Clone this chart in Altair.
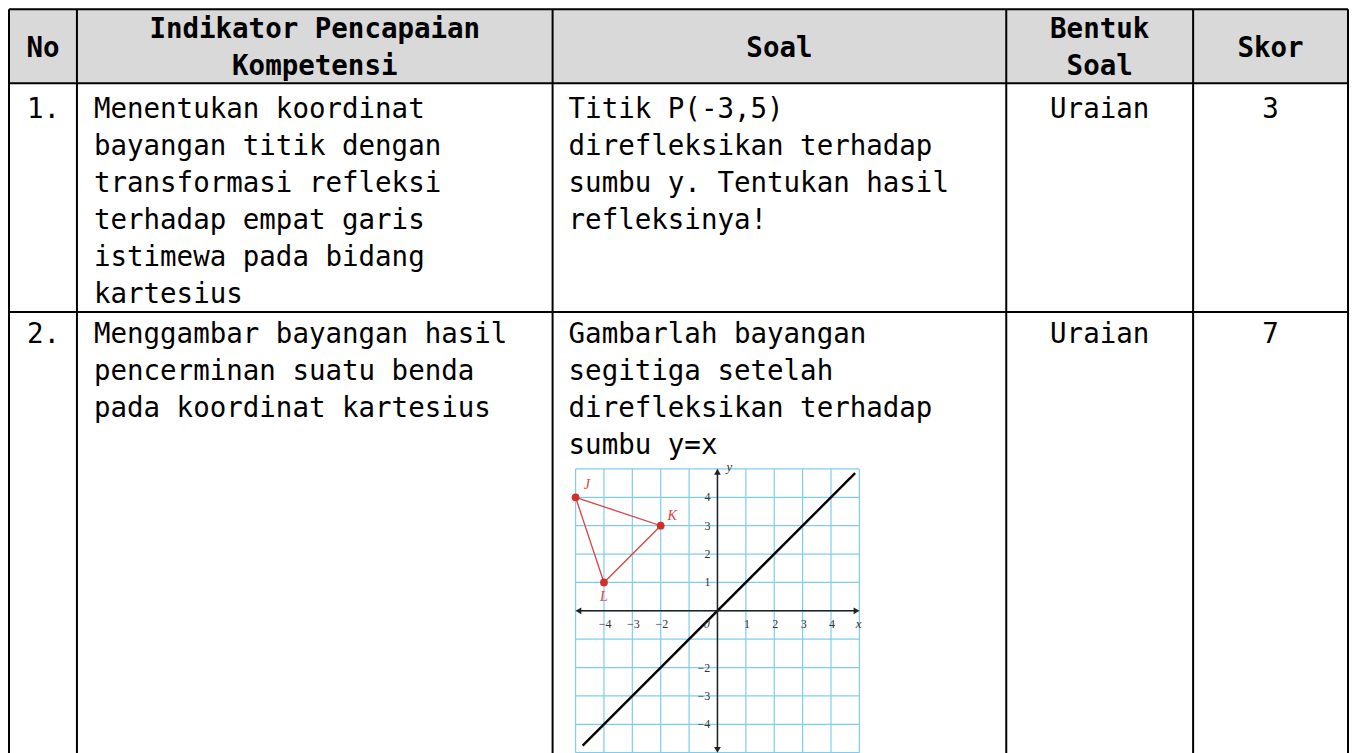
import altair as alt
import pandas as pd

# ---------------- table content ----------------
headers = ["No", "Indikator Pencapaian\nKompetensi", "Soal", "Bentuk\nSoal", "Skor"]
numbers = ["1.", "2."]
indikator = [
    "Menentukan koordinat\nbayangan titik dengan\ntransformasi refleksi\nterhadap empat garis\nistimewa pada bidang\nkartesius",
    "Menggambar bayangan hasil\npencerminan suatu benda\npada koordinat kartesius",
]
soal = [
    "Titik P(-3,5)\ndirefleksikan terhadap\nsumbu y. Tentukan hasil\nrefleksinya!",
    "Gambarlah bayangan\nsegitiga setelah\ndirefleksikan terhadap\nsumbu y=x",
]
bentuk = ["Uraian", "Uraian"]
skor = ["3", "7"]

# ---------------- embedded graph data ----------------
tri_names = ["J", "K", "L"]
tri_x = [-5, -2, -4]
tri_y = [4, 3, 1]
tri_label_x = [-4.6, -1.6, -4.0]
tri_label_y = [4.45, 3.33, 0.5]
grid_vals = [-5, -4, -3, -2, -1, 0, 1, 2, 3, 4, 5]
x_tick_vals = [-4, -3, -2, 1, 2, 3, 4]
x_tick_text = ["\u22124", "\u22123", "\u22122", "1", "2", "3", "4"]
y_tick_vals = [4, 3, 2, 1, -2, -3, -4]
y_tick_text = ["4", "3", "2", "1", "\u22122", "\u22123", "\u22124"]
mirror_x = [-4.75, 4.85]
mirror_y = [-4.75, 4.85]

# ---------------- layout ----------------
W, H = 1342, 745
COL = [9, 77, 553, 1007, 1194, 1349]
ROW = [9, 83, 312]
BOTTOM = 760
MONO = "DejaVu Sans Mono"
FS = 27.5
LH = 37
RED = "#d8443f"
GRID = "#7fcdee"
SERIF = "Liberation Serif"

tx = alt.Scale(domain=[8, 8 + W], range=[0, W])
ty = alt.Scale(domain=[8, 8 + H], range=[0, H])
gx = alt.Scale(domain=[-5, 5], range=[568, 852])
gy = alt.Scale(domain=[-5, 5], range=[745, 461])


def TX(f):
    return alt.X(f, type="quantitative", scale=tx, axis=None)


def TY(f):
    return alt.Y(f, type="quantitative", scale=ty, axis=None)


def GX(f):
    return alt.X(f, type="quantitative", scale=gx, axis=None)


def GY(f):
    return alt.Y(f, type="quantitative", scale=gy, axis=None)


# header background
hdr_bg = alt.Chart(pd.DataFrame({"x": [COL[0]], "x2": [COL[-1]], "y": [ROW[0]], "y2": [ROW[1]]})).mark_rect(
    color="#d9d9d9"
).encode(x=TX("x"), x2="x2", y=TY("y"), y2="y2")

# borders
hrules = alt.Chart(pd.DataFrame({"x": [COL[0]] * 3, "x2": [COL[-1]] * 3, "y": ROW})).mark_rule(
    color="black", strokeWidth=2
).encode(x=TX("x"), x2="x2", y=TY("y"))
vrules = alt.Chart(pd.DataFrame({"x": COL, "y": [ROW[0]] * len(COL), "y2": [BOTTOM] * len(COL)})).mark_rule(
    color="black", strokeWidth=2
).encode(x=TX("x"), y=TY("y"), y2="y2")

# header texts
centers = [(COL[i] + COL[i + 1]) / 2 for i in range(5)]
hdr_y = [57 if "\n" not in h else 38 for h in headers]
hdr_df = pd.DataFrame({"x": centers, "y": hdr_y, "t": headers})
hdr_text = alt.Chart(hdr_df).mark_text(
    font=MONO, fontSize=FS, fontWeight="bold", align="center", baseline="alphabetic",
    lineBreak="\n", lineHeight=LH, color="black"
).encode(x=TX("x"), y=TY("y"), text="t:N")

row_base = [118, 343]
left_rows = []
for i in range(2):
    left_rows.append({"x": 27, "y": row_base[i], "t": numbers[i]})
    left_rows.append({"x": 94, "y": row_base[i], "t": indikator[i]})
    left_rows.append({"x": 569, "y": row_base[i], "t": soal[i]})
left_text = alt.Chart(pd.DataFrame(left_rows)).mark_text(
    font=MONO, fontSize=FS, align="left", baseline="alphabetic",
    lineBreak="\n", lineHeight=LH, color="black"
).encode(x=TX("x"), y=TY("y"), text="t:N")

center_rows = []
for i in range(2):
    center_rows.append({"x": centers[3], "y": row_base[i], "t": bentuk[i]})
    center_rows.append({"x": centers[4], "y": row_base[i], "t": skor[i]})
center_text = alt.Chart(pd.DataFrame(center_rows)).mark_text(
    font=MONO, fontSize=FS, align="center", baseline="alphabetic", color="black"
).encode(x=TX("x"), y=TY("y"), text="t:N")

# ---------------- embedded coordinate graph ----------------
gbg = alt.Chart(pd.DataFrame({"x": [-5], "x2": [5], "y": [-5], "y2": [5]})).mark_rect(color="white").encode(
    x=GX("x"), x2="x2", y=GY("y"), y2="y2"
)
vgrid = alt.Chart(pd.DataFrame({"x": grid_vals, "y": [-5] * 11, "y2": [5] * 11})).mark_rule(
    color=GRID, strokeWidth=1.2
).encode(x=GX("x"), y=GY("y"), y2="y2")
hgrid = alt.Chart(pd.DataFrame({"y": grid_vals, "x": [-5] * 11, "x2": [5] * 11})).mark_rule(
    color=GRID, strokeWidth=1.2
).encode(y=GY("y"), x=GX("x"), x2="x2")

xaxis = alt.Chart(pd.DataFrame({"x": [-4.85], "x2": [4.85], "y": [0]})).mark_rule(
    color="#222", strokeWidth=1.5
).encode(x=GX("x"), x2="x2", y=GY("y"))
yaxis = alt.Chart(pd.DataFrame({"y": [-4.85], "y2": [4.85], "x": [0]})).mark_rule(
    color="#222", strokeWidth=1.5
).encode(y=GY("y"), y2="y2", x=GX("x"))

arrows = []
for shp, ax, ay in [("triangle-left", -4.9, 0), ("triangle-right", 4.9, 0),
                    ("triangle-up", 0, 4.9), ("triangle-down", 0, -4.9)]:
    arrows.append(
        alt.Chart(pd.DataFrame({"x": [ax], "y": [ay]})).mark_point(
            shape=shp, filled=True, color="#222", size=45, opacity=1
        ).encode(x=GX("x"), y=GY("y"))
    )

mirror = alt.Chart(pd.DataFrame({"x": mirror_x, "y": mirror_y})).mark_line(
    color="black", strokeWidth=2.4
).encode(x=GX("x"), y=GY("y"))

tri_df = pd.DataFrame({
    "x": tri_x + [tri_x[0]],
    "y": tri_y + [tri_y[0]],
    "o": [0, 1, 2, 3],
})
tri_line = alt.Chart(tri_df).mark_line(color=RED, strokeWidth=1.3).encode(
    x=GX("x"), y=GY("y"), order="o:Q"
)
tri_pts = alt.Chart(pd.DataFrame({"x": tri_x, "y": tri_y})).mark_circle(
    color="#d02f2a", size=60, opacity=1
).encode(x=GX("x"), y=GY("y"))
tri_lbl = alt.Chart(pd.DataFrame({"x": tri_label_x, "y": tri_label_y, "t": tri_names})).mark_text(
    font=SERIF, fontSize=14, fontStyle="italic", color=RED, align="center", baseline="middle"
).encode(x=GX("x"), y=GY("y"), text="t:N")

xt = alt.Chart(pd.DataFrame({"x": [v + 0.04 for v in x_tick_vals], "y": [-0.45] * 7, "t": x_tick_text})).mark_text(
    font=SERIF, fontSize=12, color="#333", align="center", baseline="middle"
).encode(x=GX("x"), y=GY("y"), text="t:N")
yt = alt.Chart(pd.DataFrame({"x": [-0.25] * 7, "y": y_tick_vals, "t": y_tick_text})).mark_text(
    font=SERIF, fontSize=12, color="#333", align="right", baseline="middle"
).encode(x=GX("x"), y=GY("y"), text="t:N")
origin = alt.Chart(pd.DataFrame({"x": [-0.38], "y": [-0.45], "t": ["0"]})).mark_text(
    font=SERIF, fontSize=12, fontStyle="italic", color="#333", align="center", baseline="middle"
).encode(x=GX("x"), y=GY("y"), text="t:N")
axlbl = alt.Chart(pd.DataFrame({"x": [4.97, 0.42], "y": [-0.45, 5.08], "t": ["x", "y"]})).mark_text(
    font=SERIF, fontSize=13, fontStyle="italic", color="#333", align="center", baseline="middle"
).encode(x=GX("x"), y=GY("y"), text="t:N")

chart = alt.layer(
    hdr_bg, hrules, vrules, hdr_text, left_text, center_text,
    gbg, vgrid, hgrid, mirror, xaxis, yaxis, *arrows,
    tri_line, tri_pts, tri_lbl, xt, yt, origin, axlbl,
).resolve_scale(x="independent", y="independent").properties(
    width=W, height=H, padding=0, autosize=alt.AutoSizeParams(type="none")
).configure_view(stroke=None)

chart.save("out.html", embed_options={"renderer": "svg", "actions": False})
